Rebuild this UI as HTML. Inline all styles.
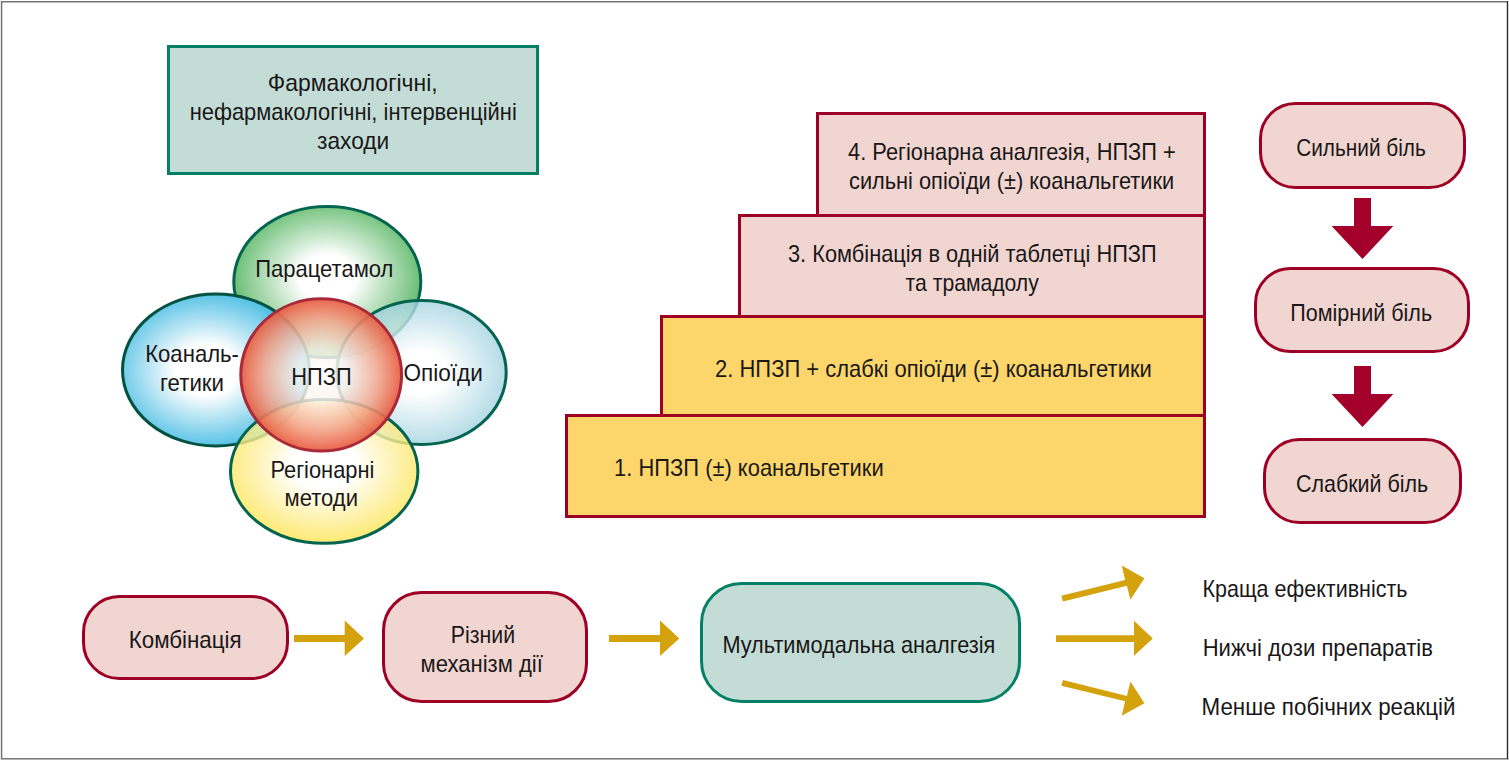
<!DOCTYPE html>
<html><head><meta charset="utf-8"><title>diagram</title>
<style>html,body{margin:0;padding:0;background:#fff;width:1509px;height:760px;overflow:hidden} svg{display:block} text{font-family:"Liberation Sans", sans-serif}</style>
</head><body>
<svg width="1509" height="760" viewBox="0 0 1509 760">
<defs>
 <radialGradient id="gG" cx="0.5" cy="0.47" r="0.5">
  <stop offset="0" stop-color="#ffffff"/><stop offset="0.3" stop-color="#ffffff"/><stop offset="1" stop-color="#6cbf76"/>
 </radialGradient>
 <radialGradient id="gB" cx="0.45" cy="0.5" r="0.56">
  <stop offset="0" stop-color="#ffffff"/><stop offset="0.3" stop-color="#ffffff"/><stop offset="1" stop-color="#3cb8e2"/>
 </radialGradient>
 <radialGradient id="gB2" cx="0.5" cy="0.5" r="0.5">
  <stop offset="0" stop-color="#ffffff"/><stop offset="0.3" stop-color="#ffffff"/><stop offset="1" stop-color="#a3d3e2"/>
 </radialGradient>
 <radialGradient id="gY" cx="0.5" cy="0.45" r="0.55">
  <stop offset="0" stop-color="#ffffff"/><stop offset="0.3" stop-color="#ffffff"/><stop offset="1" stop-color="#fde450"/>
 </radialGradient>
 <radialGradient id="gR" cx="0.5" cy="0.5" r="0.5">
  <stop offset="0" stop-color="#ffffff" stop-opacity="0.85"/><stop offset="0.33" stop-color="#fef4ef" stop-opacity="0.82"/><stop offset="0.7" stop-color="#f3a68c" stop-opacity="0.85"/><stop offset="1" stop-color="#e85a3e" stop-opacity="0.93"/>
 </radialGradient>
</defs>
<rect x="0" y="0" width="1509" height="760" fill="#ffffff"/>
<rect x="0" y="759" width="1509" height="1" fill="#b4b4b4"/><rect x="0" y="0" width="1" height="760" fill="#e6e6e6"/><rect x="1" y="1" width="1507" height="1.5" fill="#777777"/><rect x="1" y="1" width="1.3" height="758" fill="#707070"/><rect x="1" y="758" width="1507" height="1" fill="#777777"/><rect x="1506.8" y="1" width="1.4" height="758" fill="#2a2a2a"/><rect x="168.5" y="46.5" width="369" height="127" fill="#c3ddd6" stroke="#048066" stroke-width="3"/><ellipse cx="327.3" cy="282" rx="93.5" ry="75.5" fill="url(#gG)" stroke="#03644f" stroke-width="3"/><ellipse cx="215.9" cy="370" rx="93.4" ry="76" fill="url(#gB)" stroke="#02523f" stroke-width="3"/><ellipse cx="421.5" cy="372.5" rx="84.7" ry="72" fill="url(#gB2)" fill-opacity="0.8" stroke="#03644f" stroke-width="3"/><ellipse cx="324.2" cy="471.4" rx="93.7" ry="71.9" fill="url(#gY)" fill-opacity="0.8" stroke="#03644f" stroke-width="3"/><ellipse cx="321.2" cy="374.9" rx="80.4" ry="76.2" fill="url(#gR)"/><ellipse cx="321.2" cy="374.9" rx="80.4" ry="76.2" fill="none" stroke="#a82a3a" stroke-width="3"/><path d="" /><rect x="566.5" y="415.5" width="638" height="101" fill="#fcd66b" stroke="#9e0025" stroke-width="3"/><rect x="661.5" y="316.5" width="543" height="99" fill="#fcd66b" stroke="#9e0025" stroke-width="3"/><rect x="739.5" y="215.5" width="465" height="101" fill="#f0d5d1" stroke="#9e0025" stroke-width="3"/><rect x="817.5" y="113.5" width="387" height="102" fill="#f0d5d1" stroke="#9e0025" stroke-width="3"/><rect x="1260.5" y="103.5" width="204" height="84" rx="35" ry="35" fill="#f0d5d1" stroke="#9e0025" stroke-width="3"/><rect x="1255.5" y="268.5" width="213" height="83" rx="35" ry="35" fill="#f0d5d1" stroke="#9e0025" stroke-width="3"/><rect x="1264.5" y="439.5" width="196" height="83" rx="35" ry="35" fill="#f0d5d1" stroke="#9e0025" stroke-width="3"/><polygon points="1354,198 1371,198 1371,226 1393.3,226 1362.5,259 1331.6,226 1354,226" fill="#a3002b"/><polygon points="1354,366 1371,366 1371,394 1393.3,394 1362.5,427 1331.6,394 1354,394" fill="#a3002b"/><rect x="83.5" y="596.5" width="204" height="82" rx="36" ry="36" fill="#f0d5d1" stroke="#9e0025" stroke-width="3"/><rect x="383.5" y="592.5" width="203" height="109" rx="38" ry="38" fill="#f0d5d1" stroke="#9e0025" stroke-width="3"/><rect x="701.5" y="583.5" width="318" height="118" rx="40" ry="40" fill="#c3ddd6" stroke="#048066" stroke-width="3"/><polygon points="294,635 344.7,635 344.7,620.5 364,638.4 344.7,656 344.7,642 294,642" fill="#d4a20c"/><polygon points="609,635 660,635 660,620.6 679.3,638.4 660,656 660,642 609,642" fill="#d4a20c"/><polygon points="1056,635.2 1134,635.2 1134,620.7 1152.8,638.4 1134,655.7 1134,641.9 1056,641.9" fill="#d4a20c"/><polygon points="1061.3,595.8 1125.1,579.9 1121.8,565.6 1144.4,578.2 1130.4,599.8 1126.9,585.8 1063,601.6" fill="#d4a20c"/><polygon points="1063,680.1 1126.9,695.9 1130.4,681.5 1144.4,703.2 1121.8,715.8 1125.1,701.3 1061.3,685.7" fill="#d4a20c"/><g font-family="Liberation Sans" font-size="23.8" fill="#1a1718"><text x="267.70" y="91" textLength="170.00" lengthAdjust="spacingAndGlyphs">Фармакологічні,</text><text x="189.70" y="119.8" textLength="327.10" lengthAdjust="spacingAndGlyphs">нефармакологічні, інтервенційні</text><text x="317.00" y="148.85" textLength="72.20" lengthAdjust="spacingAndGlyphs">заходи</text><text x="255.20" y="276.8" textLength="138.20" lengthAdjust="spacingAndGlyphs">Парацетамол</text><text x="145.20" y="361.7" textLength="93.80" lengthAdjust="spacingAndGlyphs">Коаналь-</text><text x="160.00" y="390.6" textLength="64.00" lengthAdjust="spacingAndGlyphs">гетики</text><text x="291.20" y="384.5" textLength="60.50" lengthAdjust="spacingAndGlyphs">НПЗП</text><text x="403.50" y="380.6" textLength="79.40" lengthAdjust="spacingAndGlyphs">Опіоїди</text><text x="270.40" y="477.6" textLength="104.00" lengthAdjust="spacingAndGlyphs">Регіонарні</text><text x="284.60" y="506.4" textLength="73.40" lengthAdjust="spacingAndGlyphs">методи</text><text x="848.00" y="159.8" textLength="327.80" lengthAdjust="spacingAndGlyphs">4. Регіонарна аналгезія, НПЗП +</text><text x="849.00" y="188.9" textLength="325.10" lengthAdjust="spacingAndGlyphs">сильні опіоїди (±) коанальгетики</text><text x="788.00" y="261.8" textLength="368.70" lengthAdjust="spacingAndGlyphs">3. Комбінація в одній таблетці НПЗП</text><text x="905.60" y="290.7" textLength="133.20" lengthAdjust="spacingAndGlyphs">та трамадолу</text><text x="715.10" y="376.8" textLength="436.70" lengthAdjust="spacingAndGlyphs">2. НПЗП + слабкі опіоїди (±) коанальгетики</text><text x="614.10" y="475.8" textLength="269.60" lengthAdjust="spacingAndGlyphs">1. НПЗП (±) коанальгетики</text><text x="1296.20" y="156" textLength="129.60" lengthAdjust="spacingAndGlyphs">Сильний біль</text><text x="1290.30" y="320.7" textLength="141.80" lengthAdjust="spacingAndGlyphs">Помірний біль</text><text x="1296.00" y="491.8" textLength="132.30" lengthAdjust="spacingAndGlyphs">Слабкий біль</text><text x="128.70" y="647.8" textLength="113.00" lengthAdjust="spacingAndGlyphs">Комбінація</text><text x="450.80" y="642.8" textLength="64.30" lengthAdjust="spacingAndGlyphs">Різний</text><text x="420.60" y="671.9" textLength="122.20" lengthAdjust="spacingAndGlyphs">механізм дії</text><text x="722.40" y="652.9" textLength="273.00" lengthAdjust="spacingAndGlyphs">Мультимодальна аналгезія</text><text x="1202.50" y="596.8" textLength="205.00" lengthAdjust="spacingAndGlyphs">Краща ефективність</text><text x="1202.70" y="655.9" textLength="230.20" lengthAdjust="spacingAndGlyphs">Нижчі дози препаратів</text><text x="1201.50" y="714.8" textLength="254.10" lengthAdjust="spacingAndGlyphs">Менше побічних реакцій</text></g></svg>
</body></html>
